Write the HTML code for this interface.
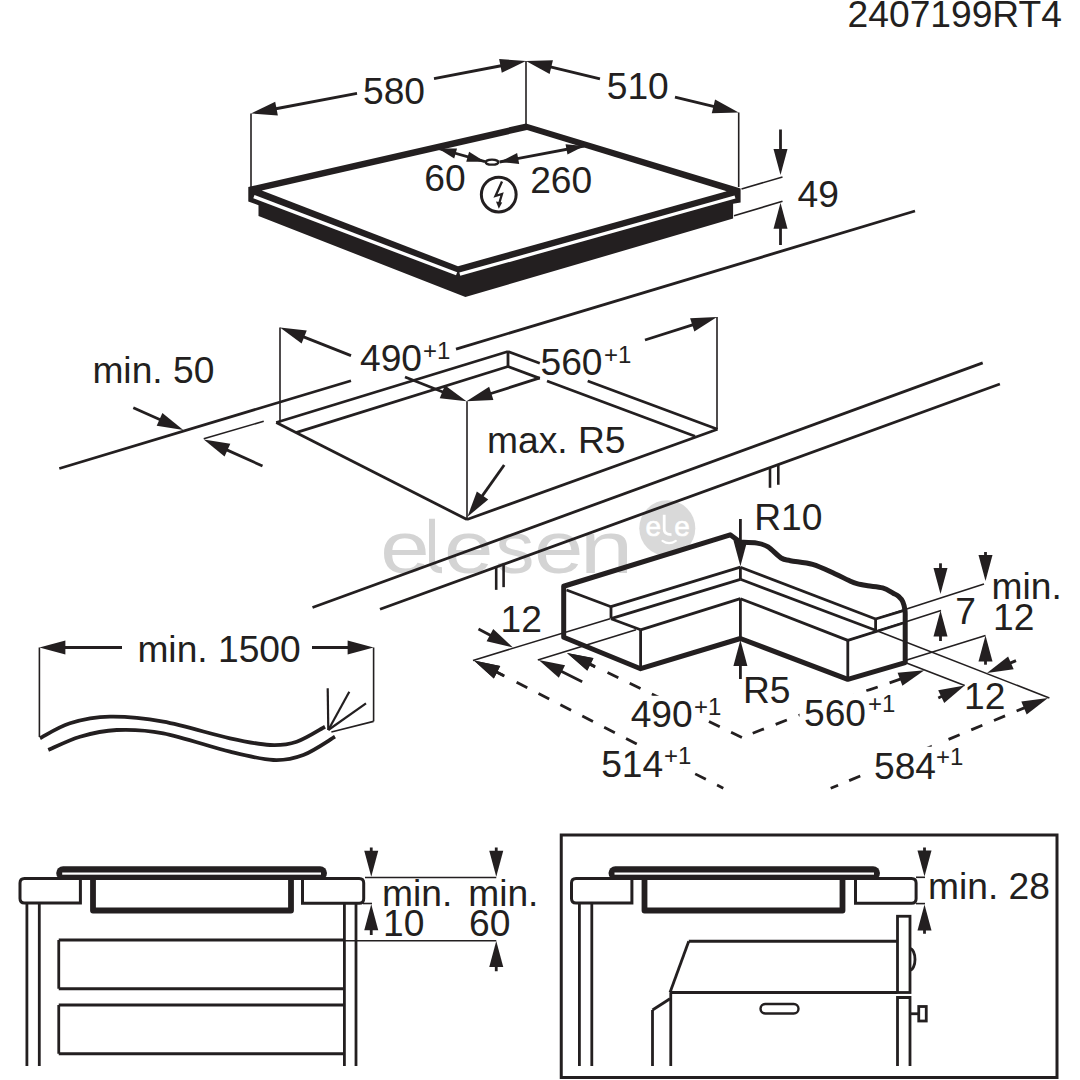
<!DOCTYPE html>
<html><head><meta charset="utf-8"><style>
html,body{margin:0;padding:0;background:#fff;}
svg{display:block;}
text{font-family:"Liberation Sans", sans-serif; fill:#231f20;}
</style></head><body>
<svg width="1080" height="1080" viewBox="0 0 1080 1080">
<rect width="1080" height="1080" fill="#fff"/>
<text transform="translate(380.15,572.8) scale(1.2,1)" font-size="74" style="fill:#d4d4d4">e</text>
<path d="M432,518.7 L432,560 Q432,570.3 442,570.3" fill="none" stroke="#d4d4d4" stroke-width="6"/>
<text transform="translate(443.9,572.8) scale(1.2,1)" font-size="74" style="fill:#d4d4d4">e</text>
<text transform="translate(495.5,572.8) scale(1.05,1)" font-size="74" style="fill:#d4d4d4">s</text>
<text transform="translate(533.9,572.8) scale(1.2,1)" font-size="74" style="fill:#d4d4d4">e</text>
<text transform="translate(579.75,572.8) scale(1.3,1)" font-size="74" style="fill:#d4d4d4">n</text>
<circle cx="667.3" cy="528.2" r="28" fill="#d9d9d9"/>
<text x="645.5" y="535.6" font-size="28" style="fill:#ffffff;stroke:#fff;stroke-width:0.6">e</text>
<text x="674.2" y="535.6" font-size="28" style="fill:#ffffff;stroke:#fff;stroke-width:0.6">e</text>
<path d="M664.2,514.8 L664.2,529.5 Q664.2,534.6 671.5,534.6" fill="none" stroke="#fff" stroke-width="2.8"/>
<path d="M662.5,540.8 Q669,545.5 675.8,540.8" fill="none" stroke="#fff" stroke-width="2.2" stroke-linecap="round"/>
<text x="847.6" y="27" font-size="37.2" >2407199RT4</text>
<line x1="251" y1="113.5" x2="251" y2="187" stroke="#231f20" stroke-width="1.6" />
<line x1="526" y1="61" x2="526" y2="124" stroke="#231f20" stroke-width="1.6" />
<line x1="738.7" y1="112.5" x2="738.7" y2="187" stroke="#231f20" stroke-width="1.6" />
<line x1="357" y1="93.26" x2="274.57" y2="109" stroke="#231f20" stroke-width="2.8" />
<polygon points="251,113.5 275.23,101.75 277.85,115.5" fill="#231f20" />
<line x1="434" y1="78.56" x2="502.43" y2="65.5" stroke="#231f20" stroke-width="2.8" />
<polygon points="526,61 501.77,72.75 499.15,59" fill="#231f20" />
<text x="363" y="104" font-size="37.2" >580</text>
<line x1="600" y1="78.92" x2="549.33" y2="66.65" stroke="#231f20" stroke-width="2.8" />
<polygon points="526,61 552.92,60.32 549.62,73.92" fill="#231f20" />
<line x1="675" y1="97.08" x2="715.37" y2="106.85" stroke="#231f20" stroke-width="2.8" />
<polygon points="738.7,112.5 711.78,113.18 715.08,99.58" fill="#231f20" />
<text x="606.75" y="98.75" font-size="37.2" >510</text>
<polygon points="248.3,187.1 526,123.5 740.6,188.5 740.6,202.4 733.1,203.8 733.1,218.6 465.4,297 258.5,216 258.5,205.2 248.3,201.5" fill="#231f20" />
<polygon points="261.8,190.6 527,130 726.7,191.3 458,266.2" fill="#fff" />
<line x1="253.9" y1="196.6" x2="456.6" y2="273.8" stroke="#fff" stroke-width="3.3" />
<line x1="459.8" y1="274.2" x2="735" y2="197" stroke="#fff" stroke-width="3.3" />
<ellipse cx="492" cy="162.2" rx="6.3" ry="2.5" fill="none" stroke="#231f20" stroke-width="2.3"/>
<line x1="438.3" y1="148.5" x2="485" y2="161.7" stroke="#231f20" stroke-width="2.8" />
<polygon points="438.3,148.5 457.04,148.39 454.21,158.4" fill="#231f20" />
<polygon points="485,161.7 466.26,161.81 469.09,151.8" fill="#231f20" />
<line x1="499.5" y1="162" x2="584.2" y2="146" stroke="#231f20" stroke-width="2.8" />
<polygon points="499.5,162 517.15,153.07 519.19,163.88" fill="#231f20" />
<polygon points="584.2,146 567.48,154.45 565.55,144.23" fill="#231f20" />
<text x="424.3" y="190.8" font-size="37.2" >60</text>
<text x="530.2" y="193.3" font-size="37.2" >260</text>
<circle cx="498.75" cy="194.6" r="17.4" fill="none" stroke="#231f20" stroke-width="3"/>
<polyline points="502,181.5 495.5,196 502,194 499.3,203" fill="none" stroke="#231f20" stroke-width="2.3" stroke-linejoin="miter"/>
<polygon points="498.8,208.8 496,201.5 502.2,202.5" fill="#231f20" />
<line x1="741.5" y1="189" x2="782.5" y2="177" stroke="#231f20" stroke-width="1.6" />
<line x1="734" y1="215.8" x2="782.5" y2="201.25" stroke="#231f20" stroke-width="1.6" />
<line x1="780.5" y1="129.5" x2="780.5" y2="151" stroke="#231f20" stroke-width="2.8" />
<polygon points="780.5,175 773.5,149 787.5,149" fill="#231f20" />
<line x1="780.5" y1="245" x2="780.5" y2="226.8" stroke="#231f20" stroke-width="2.8" />
<polygon points="780.5,202.8 787.5,228.8 773.5,228.8" fill="#231f20" />
<text x="797.5" y="207" font-size="37.2" >49</text>
<line x1="59.3" y1="468.5" x2="351" y2="380.72" stroke="#231f20" stroke-width="2.8" />
<line x1="456" y1="349.12" x2="915" y2="211" stroke="#231f20" stroke-width="2.8" />
<line x1="203.75" y1="438.75" x2="263.75" y2="421.25" stroke="#231f20" stroke-width="1.6" />
<line x1="133.3" y1="407.8" x2="161.36" y2="420.26" stroke="#231f20" stroke-width="2.8" />
<polygon points="183.3,430 156.7,425.85 162.38,413.05" fill="#231f20" />
<line x1="262.5" y1="466" x2="225.63" y2="449.37" stroke="#231f20" stroke-width="2.8" />
<polygon points="203.75,439.5 230.33,443.81 224.57,456.57" fill="#231f20" />
<text x="92.4" y="383" font-size="37.2" >min. 50</text>
<line x1="280" y1="327.5" x2="280" y2="422.5" stroke="#231f20" stroke-width="1.6" />
<line x1="276.25" y1="422.5" x2="508" y2="351.5" stroke="#231f20" stroke-width="2.8" />
<line x1="296" y1="432.54" x2="508" y2="366.5" stroke="#231f20" stroke-width="2.8" />
<line x1="508" y1="351.5" x2="508" y2="366.5" stroke="#231f20" stroke-width="2.8" />
<line x1="508" y1="351.5" x2="539.8" y2="363.29" stroke="#231f20" stroke-width="2.8" />
<line x1="587.7" y1="381.06" x2="717.5" y2="429.2" stroke="#231f20" stroke-width="2.8" />
<line x1="508" y1="366.5" x2="539.8" y2="378.36" stroke="#231f20" stroke-width="2.8" />
<line x1="547" y1="381.05" x2="695" y2="436.25" stroke="#231f20" stroke-width="2.8" />
<line x1="276.25" y1="422.5" x2="467" y2="519.5" stroke="#231f20" stroke-width="2.8" />
<line x1="467" y1="401.3" x2="467" y2="519.5" stroke="#231f20" stroke-width="1.6" />
<line x1="467" y1="519.5" x2="717.5" y2="429.2" stroke="#231f20" stroke-width="2.8" />
<line x1="717" y1="317" x2="717" y2="429" stroke="#231f20" stroke-width="1.6" />
<line x1="351" y1="355.6" x2="302.32" y2="336.33" stroke="#231f20" stroke-width="2.8" />
<polygon points="280,327.5 306.75,330.56 301.6,343.58" fill="#231f20" />
<line x1="405" y1="376.96" x2="444.18" y2="392.47" stroke="#231f20" stroke-width="2.8" />
<polygon points="466.5,401.3 439.75,398.24 444.9,385.22" fill="#231f20" />
<text x="360" y="371" font-size="37.2">490</text><text x="423" y="359" font-size="24">+1</text>
<line x1="539.8" y1="377.9" x2="489.36" y2="394" stroke="#231f20" stroke-width="2.8" />
<polygon points="466.5,401.3 489.14,386.72 493.4,400.06" fill="#231f20" />
<line x1="645" y1="340" x2="694.14" y2="324.3" stroke="#231f20" stroke-width="2.8" />
<polygon points="717,317 694.36,331.58 690.1,318.24" fill="#231f20" />
<text x="540.5" y="375" font-size="37.2">560</text><text x="604" y="362.5" font-size="24">+1</text>
<line x1="504.2" y1="465" x2="481.39" y2="497.13" stroke="#231f20" stroke-width="2.8" />
<polygon points="467.5,516.7 476.84,491.45 488.26,499.55" fill="#231f20" />
<text x="487" y="453.3" font-size="37.2" >max. R5</text>
<line x1="312.5" y1="607.5" x2="982.7" y2="362.9" stroke="#231f20" stroke-width="2.8" />
<line x1="380" y1="609.2" x2="999.9" y2="384" stroke="#231f20" stroke-width="2.8" />
<line x1="770" y1="467.8" x2="770" y2="487.8" stroke="#231f20" stroke-width="2.6" />
<line x1="778.3" y1="464.77" x2="778.3" y2="484.77" stroke="#231f20" stroke-width="2.6" />
<line x1="496.2" y1="566.35" x2="496.2" y2="589.85" stroke="#231f20" stroke-width="2.6" />
<line x1="503.6" y1="563.65" x2="503.6" y2="587.15" stroke="#231f20" stroke-width="2.6" />
<line x1="39.4" y1="647.5" x2="39.4" y2="737" stroke="#231f20" stroke-width="1.6" />
<line x1="373.6" y1="647.5" x2="373.6" y2="721.4" stroke="#231f20" stroke-width="1.6" />
<line x1="373.6" y1="721.4" x2="331.4" y2="732" stroke="#231f20" stroke-width="1.6" />
<line x1="122" y1="647.5" x2="63.4" y2="647.5" stroke="#231f20" stroke-width="2.8" />
<polygon points="39.4,647.5 65.4,640.5 65.4,654.5" fill="#231f20" />
<line x1="312" y1="647.5" x2="349.6" y2="647.5" stroke="#231f20" stroke-width="2.8" />
<polygon points="373.6,647.5 347.6,654.5 347.6,640.5" fill="#231f20" />
<text x="137.4" y="661.6" font-size="37.2" >min. 1500</text>
<path d="M40,738.3 C45,735.8 58.33,726.9 70,723.3 C81.67,719.7 94.45,716.97 110,716.7 C125.55,716.43 143.3,718.1 163.3,721.7 C183.3,725.3 212.22,734.42 230,738.3 C247.78,742.18 258.88,744.43 270,745 C281.12,745.57 287.53,744.75 296.7,741.7 C305.87,738.65 320.28,729.2 325,726.7" fill="none" stroke="#231f20" stroke-width="3.8"/>
<path d="M48.3,750 C53.58,747.78 68.6,740.03 80,736.7 C91.4,733.37 102.82,730.57 116.7,730 C130.58,729.43 144.42,729.68 163.3,733.3 C182.18,736.92 211.67,747.25 230,751.7 C248.33,756.15 261.08,759.45 273.3,760 C285.52,760.55 293.02,758.88 303.3,755 C313.58,751.12 329.72,739.75 335,736.7" fill="none" stroke="#231f20" stroke-width="3.8"/>
<line x1="328.3" y1="730" x2="327.7" y2="688.3" stroke="#231f20" stroke-width="2.2" />
<line x1="328.3" y1="730" x2="349.3" y2="691.7" stroke="#231f20" stroke-width="2.2" />
<line x1="328.3" y1="730" x2="366" y2="703.3" stroke="#231f20" stroke-width="2.2" />
<path d="M563.7,637.2 L563.7,586.25 L730.2,534.8 L740.4,542.2 C743.17,542.35 752.38,542.32 757,543.1 C761.62,543.88 764.08,544.42 768.1,546.9 C772.12,549.38 777.38,555.7 781.1,558 C784.82,560.3 785.15,559.63 790.4,560.7 C795.65,561.77 805.2,562.23 812.6,564.4 C820,566.57 828.82,571.05 834.8,573.7 C840.78,576.35 844.8,578.63 848.5,580.3 C852.2,581.97 853.8,582.78 857,583.7 C860.2,584.62 863.43,585.1 867.7,585.8 C871.97,586.5 878.35,586.67 882.6,587.9 C886.85,589.13 890.53,591.78 893.2,593.2 C895.87,594.62 897,594.97 898.6,596.4 C900.2,597.83 901.73,599.48 902.8,601.8 C903.87,604.12 904.6,607.6 905,610.3 C905.4,613 905.17,616.72 905.2,618 L905.2,662.6 L847.8,679.3 L740.4,638.5 L640.6,668.7 Z" fill="none" stroke="#231f20" stroke-width="5" stroke-linejoin="round"/>
<line x1="566.5" y1="590" x2="611" y2="606.7" stroke="#231f20" stroke-width="2.8" />
<line x1="611" y1="606.7" x2="611" y2="618.7" stroke="#231f20" stroke-width="2.8" />
<line x1="611" y1="606.7" x2="740.4" y2="567.2" stroke="#231f20" stroke-width="2.8" />
<line x1="611" y1="618.7" x2="740.4" y2="579.3" stroke="#231f20" stroke-width="2.8" />
<line x1="611" y1="618.7" x2="640.6" y2="629.8" stroke="#231f20" stroke-width="2.8" />
<line x1="640.6" y1="629.8" x2="640.6" y2="668.7" stroke="#231f20" stroke-width="2.8" />
<line x1="640.6" y1="629.8" x2="740.4" y2="598.7" stroke="#231f20" stroke-width="2.8" />
<line x1="740.4" y1="598.7" x2="740.4" y2="638.5" stroke="#231f20" stroke-width="2.8" />
<line x1="740.4" y1="567.2" x2="740.4" y2="579.3" stroke="#231f20" stroke-width="2.8" />
<line x1="740.4" y1="567.2" x2="875.6" y2="619" stroke="#231f20" stroke-width="2.8" />
<line x1="740.4" y1="579.3" x2="875.6" y2="630.2" stroke="#231f20" stroke-width="2.8" />
<line x1="875.6" y1="619" x2="875.6" y2="630.2" stroke="#231f20" stroke-width="2.8" />
<line x1="875.6" y1="619" x2="903.3" y2="610.7" stroke="#231f20" stroke-width="2.8" />
<line x1="740.4" y1="598.7" x2="847.8" y2="640.4" stroke="#231f20" stroke-width="2.8" />
<line x1="847.8" y1="640.4" x2="847.8" y2="679.3" stroke="#231f20" stroke-width="2.8" />
<line x1="847.8" y1="640.4" x2="903.3" y2="623" stroke="#231f20" stroke-width="2.8" />
<line x1="740.4" y1="519" x2="740.4" y2="542.3" stroke="#231f20" stroke-width="2.8" />
<polygon points="740.4,566.3 733.4,540.3 747.4,540.3" fill="#231f20" />
<text x="754.2" y="530" font-size="37.2" >R10</text>
<line x1="740.4" y1="679" x2="740.4" y2="664" stroke="#231f20" stroke-width="2.8" />
<polygon points="740.4,640 747.4,666 733.4,666" fill="#231f20" />
<text x="743" y="702.5" font-size="37.2" >R5</text>
<line x1="473" y1="660.4" x2="610" y2="618.7" stroke="#231f20" stroke-width="1.6" />
<line x1="537.8" y1="660" x2="636" y2="629.8" stroke="#231f20" stroke-width="1.6" />
<line x1="478.5" y1="628.9" x2="491.68" y2="636.01" stroke="#231f20" stroke-width="2.8" />
<polygon points="512.8,647.4 486.59,641.22 493.24,628.9" fill="#231f20" />
<text x="500.6" y="631.7" font-size="37.2" >12</text>
<line x1="504.4" y1="676.1" x2="495.24" y2="671.38" stroke="#231f20" stroke-width="2.8" />
<polygon points="473.9,660.4 500.22,666.08 493.81,678.52" fill="#231f20" />
<line x1="582.2" y1="681.7" x2="560.18" y2="670.71" stroke="#231f20" stroke-width="2.8" />
<polygon points="538.7,660 565.09,665.34 558.84,677.87" fill="#231f20" />
<line x1="595.2" y1="666.9" x2="588.53" y2="663.61" stroke="#231f20" stroke-width="2.8" />
<polygon points="567,653 593.42,658.22 587.23,670.77" fill="#231f20" />
<polygon points="473.9,660.4 500.23,666.04 493.84,678.49" fill="#231f20" />
<line x1="496.15" y1="671.81" x2="650" y2="750.7" stroke="#231f20" stroke-width="2.8" stroke-dasharray="8 15 12 12.6 12 12.6 12 12.6 12 12.6 12 12.6 12 12.6 12 12.6 12 12.6 " stroke-dashoffset="0"/>
<line x1="723.3" y1="788.3" x2="650" y2="750.7" stroke="#231f20" stroke-width="2.8" stroke-dasharray="7 12.6 12 12.6 12 12.6 12 12.6 12 12.6 12 12.6 12 12.6 " stroke-dashoffset="0"/>
<polygon points="567,653 593.46,658 587.37,670.6" fill="#231f20" />
<line x1="589.52" y1="663.87" x2="680" y2="707.5" stroke="#231f20" stroke-width="2.8" stroke-dasharray="6 14 12 12.6 12 12.6 12 12.6 12 12.6 12 12.6 12 12.6 " stroke-dashoffset="0"/>
<line x1="741.9" y1="737.4" x2="680" y2="707.5" stroke="#231f20" stroke-width="2.8" stroke-dasharray="12 12.6 12 12.6 12 12.6 12 12.6 12 12.6 12 12.6 " stroke-dashoffset="0"/>
<polygon points="924.4,670.3 902.41,685.84 897.58,672.7" fill="#231f20" />
<line x1="900.94" y1="678.93" x2="830" y2="703.4" stroke="#231f20" stroke-width="2.8" stroke-dasharray="12 12.6 12 12.6 12 12.6 12 12.6 12 12.6 12 12.6 " stroke-dashoffset="0"/>
<line x1="741.9" y1="737.4" x2="830" y2="703.4" stroke="#231f20" stroke-width="2.8" stroke-dasharray="12 12.6 12 12.6 12 12.6 12 12.6 12 12.6 12 12.6 " stroke-dashoffset="13"/>
<polygon points="1048,698 1026.68,714.44 1021.3,701.51" fill="#231f20" />
<line x1="830.7" y1="788.3" x2="915" y2="753.3" stroke="#231f20" stroke-width="2.8" stroke-dasharray="8 12 12 12.6 12 12.6 12 12.6 12 12.6 12 12.6 12 12.6 " stroke-dashoffset="0"/>
<line x1="1024.91" y1="707.59" x2="915" y2="753.3" stroke="#231f20" stroke-width="2.8" stroke-dasharray="9 12.5 12 12.6 12 12.6 12 12.6 12 12.6 12 12.6 12 12.6 " stroke-dashoffset="0"/>
<rect x="626.7" y="695.8" width="70.3" height="36.4" fill="#fff"/>
<rect x="690" y="692.4" width="33" height="27.3" fill="#fff"/>
<rect x="799.5" y="693.3" width="70.5" height="36.7" fill="#fff"/>
<rect x="863.3" y="691.7" width="33.4" height="26.6" fill="#fff"/>
<rect x="598" y="745" width="68.5" height="36.5" fill="#fff"/>
<rect x="660" y="741.7" width="33" height="27.3" fill="#fff"/>
<rect x="870" y="746.7" width="68" height="36.6" fill="#fff"/>
<rect x="931.7" y="741.7" width="33.3" height="26.6" fill="#fff"/>
<text x="630.7" y="727.2" font-size="37.2">490</text><text x="693.9" y="714.7" font-size="24">+1</text>
<text x="804" y="726" font-size="37.2">560</text><text x="867.9" y="712" font-size="24">+1</text>
<text x="601.2" y="776.5" font-size="37.2">514</text><text x="664" y="764" font-size="24">+1</text>
<text x="874" y="778.6" font-size="37.2">584</text><text x="936" y="764.7" font-size="24">+1</text>
<line x1="875.6" y1="619" x2="984" y2="584" stroke="#231f20" stroke-width="1.6" />
<line x1="847.8" y1="640.4" x2="941" y2="610.5" stroke="#231f20" stroke-width="1.6" />
<line x1="905.2" y1="660.5" x2="985.5" y2="635.5" stroke="#231f20" stroke-width="1.6" />
<line x1="875.6" y1="630.2" x2="1049.4" y2="698" stroke="#231f20" stroke-width="1.6" />
<line x1="905.2" y1="662.6" x2="964.7" y2="685.5" stroke="#231f20" stroke-width="1.6" />
<line x1="940.5" y1="563.3" x2="940.5" y2="570" stroke="#231f20" stroke-width="2.8" />
<polygon points="940.5,594 933.5,568 947.5,568" fill="#231f20" />
<line x1="940.5" y1="641" x2="940.5" y2="634.5" stroke="#231f20" stroke-width="2.8" />
<polygon points="940.5,610.5 947.5,636.5 933.5,636.5" fill="#231f20" />
<text x="955.3" y="624.4" font-size="37.2" >7</text>
<line x1="985.5" y1="552" x2="985.5" y2="557" stroke="#231f20" stroke-width="2.8" />
<polygon points="985.5,581 978.5,555 992.5,555" fill="#231f20" />
<line x1="985.5" y1="664.7" x2="985.5" y2="659.5" stroke="#231f20" stroke-width="2.8" />
<polygon points="985.5,635.5 992.5,661.5 978.5,661.5" fill="#231f20" />
<text x="991.5" y="599.4" font-size="37.2" >min.</text>
<text x="993" y="630" font-size="37.2" >12</text>
<line x1="938.3" y1="698" x2="943.01" y2="695.77" stroke="#231f20" stroke-width="2.8" />
<polygon points="964.7,685.5 944.2,702.95 938.21,690.3" fill="#231f20" />
<line x1="1016" y1="660.6" x2="1009.04" y2="663.6" stroke="#231f20" stroke-width="2.8" />
<polygon points="987,673.1 1008.11,656.38 1013.65,669.24" fill="#231f20" />
<text x="964" y="709" font-size="37.2" >12</text>
<line x1="26.9" y1="903.5" x2="26.9" y2="1066" stroke="#231f20" stroke-width="2.8" />
<line x1="39.3" y1="903.5" x2="39.3" y2="1066" stroke="#231f20" stroke-width="2.8" />
<path d="M80.4,878.5 L24.5,878.5 Q20,878.5 20,883.0 L20,898.5 Q20,903 24.5,903 L80.4,903 Z" fill="#fff" stroke="#231f20" stroke-width="3"/>
<path d="M93,878 V910.5 H291 V878" fill="none" stroke="#231f20" stroke-width="5.8" stroke-linejoin="round"/>
<line x1="344.4" y1="903.5" x2="344.4" y2="1066" stroke="#231f20" stroke-width="2.8" />
<line x1="356" y1="903.5" x2="356" y2="1066" stroke="#231f20" stroke-width="2.8" />
<path d="M302.5,878.5 L359.2,878.5 Q363.7,878.5 363.7,883.0 L363.7,898.7 Q363.7,903.2 359.2,903.2 L302.5,903.2 Z" fill="#fff" stroke="#231f20" stroke-width="3"/>
<rect x="56.2" y="866.2" width="270.8" height="13.8" rx="6.9" fill="#231f20"/>
<rect x="62.2" y="872.5" width="258.8" height="2.2" fill="#fff"/>
<line x1="58.75" y1="940" x2="344" y2="940" stroke="#231f20" stroke-width="2.8" />
<line x1="58.75" y1="988.75" x2="344" y2="988.75" stroke="#231f20" stroke-width="2.8" />
<line x1="58.75" y1="940" x2="58.75" y2="988.75" stroke="#231f20" stroke-width="2.8" />
<line x1="58.75" y1="1005" x2="344" y2="1005" stroke="#231f20" stroke-width="2.8" />
<line x1="58.75" y1="1053.75" x2="344" y2="1053.75" stroke="#231f20" stroke-width="2.8" />
<line x1="58.75" y1="1005" x2="58.75" y2="1053.75" stroke="#231f20" stroke-width="2.8" />
<line x1="365" y1="877.5" x2="496.25" y2="877.5" stroke="#231f20" stroke-width="1.6" />
<line x1="344" y1="940.8" x2="496.25" y2="940.8" stroke="#231f20" stroke-width="1.6" />
<line x1="363" y1="903.5" x2="372" y2="903.5" stroke="#231f20" stroke-width="1.6" />
<line x1="371.25" y1="847.5" x2="371.25" y2="852.8" stroke="#231f20" stroke-width="2.8" />
<polygon points="371.25,876.8 364.25,850.8 378.25,850.8" fill="#231f20" />
<line x1="371.25" y1="935" x2="371.25" y2="928.2" stroke="#231f20" stroke-width="2.8" />
<polygon points="371.25,904.2 378.25,930.2 364.25,930.2" fill="#231f20" />
<line x1="496.25" y1="847.5" x2="496.25" y2="852.8" stroke="#231f20" stroke-width="2.8" />
<polygon points="496.25,876.8 489.25,850.8 503.25,850.8" fill="#231f20" />
<line x1="496.25" y1="971.25" x2="496.25" y2="965" stroke="#231f20" stroke-width="2.8" />
<polygon points="496.25,941 503.25,967 489.25,967" fill="#231f20" />
<text x="382" y="906" font-size="37.2" >min.</text>
<text x="383" y="936" font-size="37.2" >10</text>
<text x="468.2" y="906" font-size="37.2" >min.</text>
<text x="469" y="936" font-size="37.2" >60</text>
<rect x="561.25" y="835" width="495.75" height="242.5" fill="none" stroke="#231f20" stroke-width="3"/>
<line x1="579.4" y1="903.5" x2="579.4" y2="1066" stroke="#231f20" stroke-width="2.8" />
<line x1="591.8" y1="903.5" x2="591.8" y2="1066" stroke="#231f20" stroke-width="2.8" />
<path d="M631.9,878.5 L576.0,878.5 Q571.5,878.5 571.5,883.0 L571.5,898.5 Q571.5,903 576.0,903 L631.9,903 Z" fill="#fff" stroke="#231f20" stroke-width="3"/>
<path d="M644.5,878 V910.5 H842.5 V878" fill="none" stroke="#231f20" stroke-width="5.8" stroke-linejoin="round"/>
<path d="M855.5,878.5 L911.6,878.5 Q916.1,878.5 916.1,883.0 L916.1,898.7 Q916.1,903.2 911.6,903.2 L855.5,903.2 Z" fill="#fff" stroke="#231f20" stroke-width="3"/>
<rect x="608.5" y="866.2" width="271.5" height="13.8" rx="6.9" fill="#231f20"/>
<rect x="614.5" y="872.5" width="259.5" height="2.2" fill="#fff"/>
<line x1="688.75" y1="941.25" x2="897.5" y2="941.25" stroke="#231f20" stroke-width="2.8" />
<line x1="688.75" y1="941.25" x2="670" y2="992.5" stroke="#231f20" stroke-width="2.8" />
<line x1="670" y1="992.5" x2="897.5" y2="992.5" stroke="#231f20" stroke-width="2.8" />
<line x1="670.75" y1="992.5" x2="670.75" y2="1066" stroke="#231f20" stroke-width="2.8" />
<line x1="670" y1="998.75" x2="652.5" y2="1010" stroke="#231f20" stroke-width="2.8" />
<line x1="652.5" y1="1010" x2="652.5" y2="1066" stroke="#231f20" stroke-width="2.8" />
<rect x="760.5" y="1004" width="38" height="9.5" rx="4.75" fill="none" stroke="#231f20" stroke-width="2.4"/>
<rect x="897.5" y="916.25" width="12.5" height="76.25" fill="none" stroke="#231f20" stroke-width="2.8"/>
<path d="M897.5,1066 V997.5 H910 V1066" fill="none" stroke="#231f20" stroke-width="2.8"/>
<path d="M910,948.75 A5,10.6 0 0 1 910,970" fill="none" stroke="#231f20" stroke-width="2.8"/>
<line x1="910" y1="1013.75" x2="919" y2="1013.75" stroke="#231f20" stroke-width="2.8" />
<rect x="918.75" y="1006.5" width="7.5" height="14.5" fill="none" stroke="#231f20" stroke-width="2.8"/>
<line x1="916" y1="877.3" x2="925" y2="877.3" stroke="#231f20" stroke-width="1.6" />
<line x1="916" y1="903.6" x2="925" y2="903.6" stroke="#231f20" stroke-width="1.6" />
<line x1="924.5" y1="847.5" x2="924.5" y2="852.5" stroke="#231f20" stroke-width="2.8" />
<polygon points="924.5,876.5 917.5,850.5 931.5,850.5" fill="#231f20" />
<line x1="924.5" y1="933.75" x2="924.5" y2="928.5" stroke="#231f20" stroke-width="2.8" />
<polygon points="924.5,904.5 931.5,930.5 917.5,930.5" fill="#231f20" />
<text x="928" y="898.75" font-size="37.2" >min. 28</text>
</svg></body></html>
